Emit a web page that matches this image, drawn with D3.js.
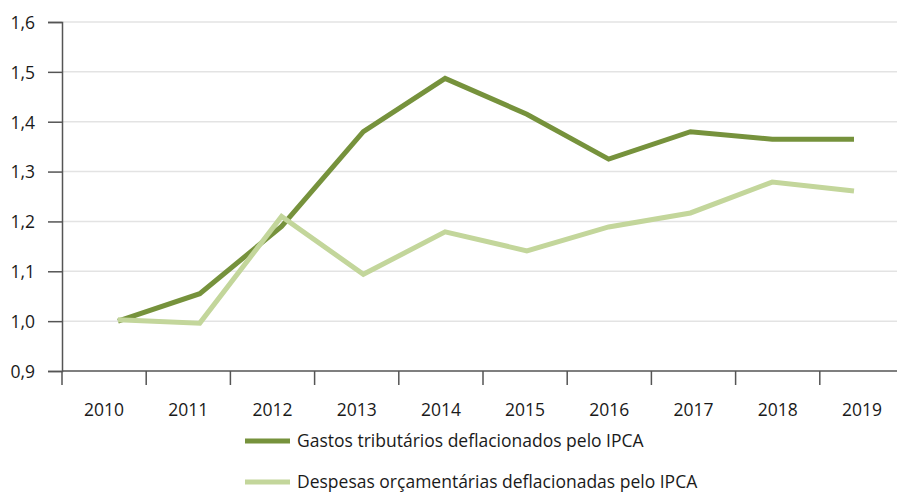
<!DOCTYPE html>
<html>
<head>
<meta charset="utf-8">
<script src="https://cdn.jsdelivr.net/npm/d3@7"></script>
<style>
  body { margin: 0; background: #fff; }
  svg { display: block; }
  svg text { font-family: "Open Sans", "Noto Sans", sans-serif; }
</style>
</head>
<body>
<div id="chart"></div>
<script>
// Gastos tributários vs despesas orçamentárias (índice, 2010 = 1)
const years = ["2010", "2011", "2012", "2013", "2014", "2015", "2016", "2017", "2018", "2019"];
const gastos = [1.0, 1.055, 1.19, 1.38, 1.487, 1.415, 1.325, 1.38, 1.365, 1.365];
const despesas = [1.003, 0.996, 1.21, 1.094, 1.179, 1.141, 1.189, 1.217, 1.279, 1.261];
const yTicks = [0.9, 1.0, 1.1, 1.2, 1.3, 1.4, 1.5, 1.6];
const seriesNames = ["Gastos tributários deflacionados pelo IPCA", "Despesas orçamentárias deflacionadas pelo IPCA"];

const width = 897, height = 494;
const colors = ["#76923c", "#c3d69b"];
const fontSize = 17.5;

const svg = d3.select("#chart").append("svg")
  .attr("width", width)
  .attr("height", height);

const ptBr = d3.formatLocale({ decimal: ",", thousands: ".", grouping: [3], currency: ["R$", ""] });
const fmt = ptBr.format(".1f");

const y = d3.scaleLinear().domain([0.9, 1.6]).range([371, 22]);
// category axis bands (ticks between years)
const xBand = d3.scaleBand().domain(years).range([62, 904]);
// line points sit slightly inside the bands
const xPt = d3.scalePoint().domain(years).range([118, 854]);

// gridlines
svg.append("g")
  .selectAll("line")
  .data(yTicks.slice(1))
  .enter().append("line")
  .attr("x1", 62).attr("x2", width)
  .attr("y1", d => y(d)).attr("y2", d => y(d))
  .attr("stroke", "#e3e3e3")
  .attr("stroke-width", 1.5);

// y axis
const yAxis = svg.append("g")
  .attr("transform", "translate(62,0)")
  .call(d3.axisLeft(y).tickValues(yTicks).tickFormat(fmt).tickSize(14).tickPadding(13));
yAxis.attr("font-family", null).attr("font-size", null);
yAxis.select(".domain").attr("stroke", "#555").attr("stroke-width", 1.5);
yAxis.selectAll(".tick line").attr("stroke", "#555").attr("stroke-width", 1.5);
yAxis.selectAll("text").attr("font-size", fontSize).attr("fill", "#1a1a1a").attr("dy", "0.36em");

// x axis
const xAxis = svg.append("g")
  .attr("transform", "translate(0,371)");
xAxis.append("line")
  .attr("x1", 62).attr("x2", width)
  .attr("stroke", "#555").attr("stroke-width", 1.5);
xAxis.selectAll(".tk")
  .data(years)
  .enter().append("line")
  .attr("class", "tk")
  .attr("x1", d => xBand(d)).attr("x2", d => xBand(d))
  .attr("y1", 0).attr("y2", 14)
  .attr("stroke", "#555").attr("stroke-width", 1.5);
xAxis.selectAll("text")
  .data(years)
  .enter().append("text")
  .attr("x", d => xBand(d) + xBand.bandwidth() / 2)
  .attr("y", 45)
  .attr("text-anchor", "middle")
  .attr("font-size", fontSize)
  .attr("fill", "#1a1a1a")
  .text(d => d);

// lines
const line = d3.line()
  .x((d, i) => xPt(years[i]))
  .y(d => y(d));

[gastos, despesas].forEach((vals, i) => {
  svg.append("path")
    .datum(vals)
    .attr("d", line)
    .attr("fill", "none")
    .attr("stroke", colors[i])
    .attr("stroke-width", 5)
    .attr("stroke-linejoin", "miter");
});

// legend
const legend = svg.append("g");
seriesNames.forEach((name, i) => {
  const ly = 441 + i * 41;
  legend.append("line")
    .attr("x1", 245).attr("x2", 290)
    .attr("y1", ly).attr("y2", ly)
    .attr("stroke", colors[i])
    .attr("stroke-width", 5);
  legend.append("text")
    .attr("x", 297)
    .attr("y", ly + 6)
    .attr("font-size", fontSize)
    .attr("fill", "#1a1a1a")
    .text(name);
});
</script>
</body>
</html>
